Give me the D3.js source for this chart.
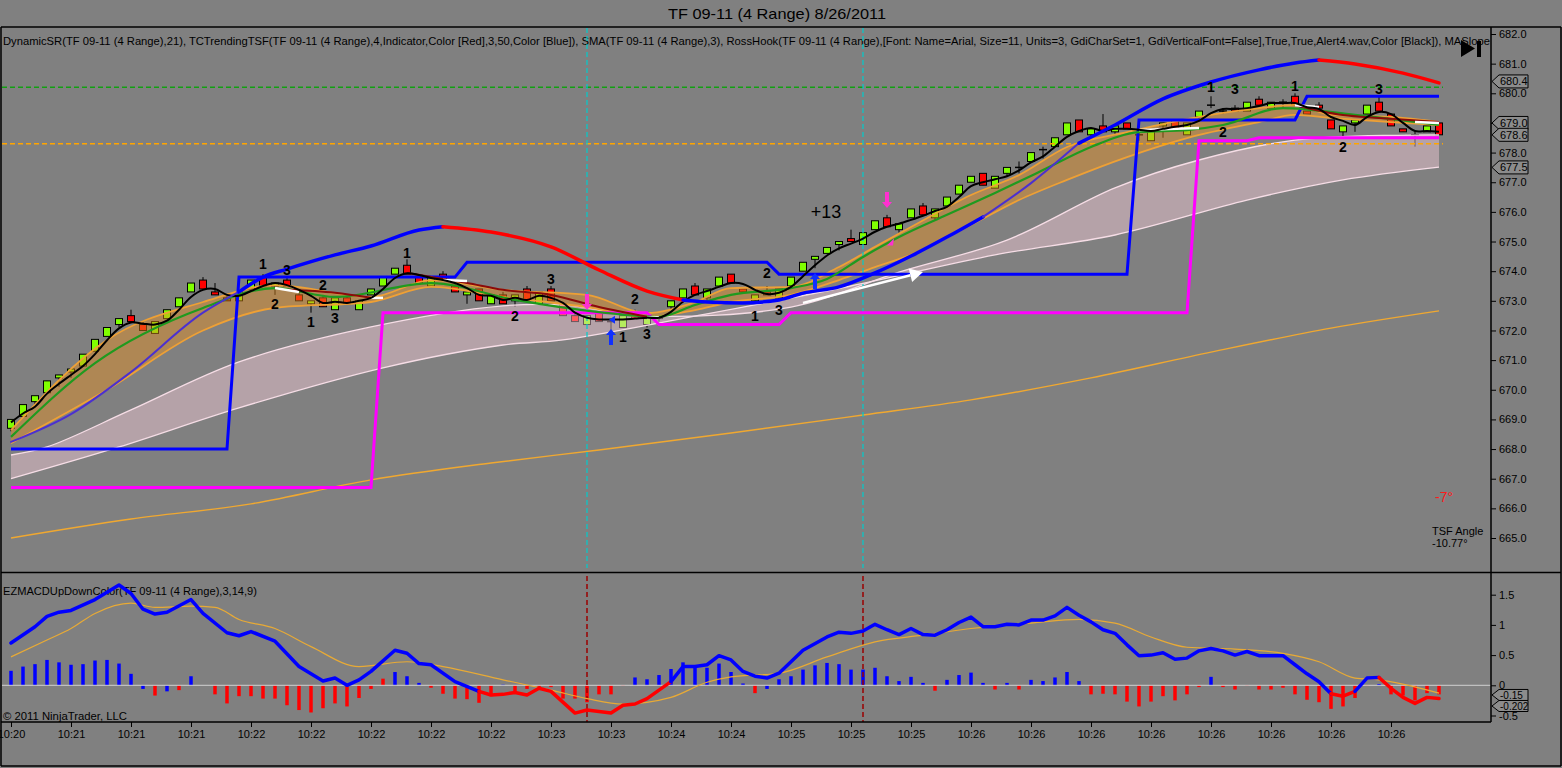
<!DOCTYPE html>
<html><head><meta charset="utf-8">
<script src="https://cdn.jsdelivr.net/npm/d3@7"></script>
<style>
body{margin:0;background:#808080;overflow:hidden}
svg{display:block}
text{font-family:"Liberation Sans",Arial,sans-serif}
</style>
</head><body>
<svg id="c" width="1562" height="768"></svg>
<script>
// ---------------- DATA ----------------
const title = "TF 09-11 (4 Range)  8/26/2011";
const indicatorText = "DynamicSR(TF 09-11 (4 Range),21), TCTrendingTSF(TF 09-11 (4 Range),4,Indicator,Color [Red],3,50,Color [Blue]), SMA(TF 09-11 (4 Range),3), RossHook(TF 09-11 (4 Range),[Font: Name=Arial, Size=11, Units=3, GdiCharSet=1, GdiVerticalFont=False],True,True,Alert4.wav,Color [Black]), MASlope";
const lowerText = "EZMACDUpDownColor(TF 09-11 (4 Range),3,14,9)";
const copyText = "\u00A9 2011 NinjaTrader, LLC";
const tickBars = [0,5,10,15,20,25,30,35,40,45,50,55,60,65,70,75,80,85,90,95,100,105,110,115];
const timeLabels = ["10:20","10:21","10:21","10:21","10:22","10:22","10:22","10:22","10:22","10:23","10:23","10:24","10:24","10:25","10:25","10:25","10:26","10:26","10:26","10:26","10:26","10:26","10:26","10:26"];
const priceTicks = [665,666,667,668,669,670,671,672,673,674,675,676,677,678,679,680,681,682];
const macdTicks = [-0.5,0,0.5,1,1.5];

// candles [open, high, low, close]
const candles = [
[668.7,669.0,668.6,669.0],[669.1,669.5,669.1,669.5],[669.6,669.8,669.5,669.8],[669.9,670.3,669.9,670.3],[670.4,670.5,670.1,670.5],
[670.6,670.7,670.4,670.7],[670.8,671.2,670.8,671.2],[671.3,671.7,671.3,671.7],[671.8,672.1,671.8,672.1],[672.2,672.4,672.1,672.4],
[672.5,672.7,672.3,672.3],[672.2,672.3,672.0,672.0],[671.9,672.3,671.9,672.3],[672.4,672.7,672.4,672.7],[672.8,673.1,672.8,673.1],
[673.3,673.6,673.3,673.6],[673.7,673.8,673.4,673.4],[673.3,673.6,673.2,673.2],[673.1,673.2,673.0,673.0],[673.0,673.3,673.0,673.3],
[673.4,673.7,673.4,673.7],[673.8,673.9,673.5,673.5],[673.5,673.6,673.2,673.6],[673.7,673.8,673.5,673.5],[673.2,673.3,673.0,673.0],
[672.9,673.0,672.6,673.0],[673.1,673.2,672.8,672.8],[672.7,673.1,672.7,673.1],[673.1,673.2,672.9,672.9],[672.7,673.0,672.7,673.0],
[673.2,673.4,673.2,673.4],[673.5,673.8,673.5,673.8],[673.9,674.1,673.9,674.1],[674.2,674.4,673.9,673.9],[673.8,673.9,673.6,673.6],
[673.5,673.8,673.5,673.8],[673.9,674.0,673.7,673.7],[673.5,673.6,673.3,673.3],[673.2,673.3,672.9,673.3],[673.4,673.4,673.0,673.0],
[672.9,673.2,672.9,673.2],[673.2,673.3,672.9,672.9],[673.0,673.2,672.8,673.2],[673.4,673.5,673.0,673.0],[672.9,673.3,672.9,673.3],
[673.4,673.5,673.0,673.0],[672.9,672.9,672.5,672.5],[672.5,672.6,672.3,672.3],[672.2,672.5,672.2,672.5],[672.6,672.6,672.3,672.3],
[672.3,672.4,672.0,672.3],[672.1,672.5,672.1,672.5],[672.6,672.7,672.4,672.4],[672.2,672.4,672.1,672.4],[672.4,672.5,672.3,672.5],
[672.8,673.0,672.7,673.0],[673.1,673.4,673.1,673.4],[673.5,673.6,673.2,673.2],[673.1,673.4,673.0,673.4],[673.5,673.8,673.5,673.8],
[673.9,673.9,673.6,673.6],[673.4,673.4,673.3,673.3],[673.0,673.2,672.9,673.2],[673.3,673.5,673.2,673.2],[673.1,673.4,673.0,673.4],
[673.5,673.8,673.5,673.8],[674.0,674.3,674.0,674.3],[674.4,674.5,674.1,674.5],[674.6,674.8,674.6,674.8],[674.9,675.0,674.7,675.0],
[675.1,675.4,675.0,675.0],[674.9,675.3,674.9,675.3],[675.4,675.7,675.4,675.7],[675.8,675.9,675.5,675.5],[675.4,675.6,675.3,675.6],
[675.8,676.1,675.8,676.1],[676.2,676.3,675.9,675.9],[675.8,676.1,675.7,676.1],[676.2,676.5,676.2,676.5],[676.6,676.9,676.6,676.9],
[677.0,677.2,677.0,677.2],[677.3,677.3,676.9,676.9],[676.8,677.2,676.8,677.2],[677.3,677.5,677.2,677.5],[677.5,677.7,677.3,677.5],
[677.7,678.0,677.7,678.0],[678.1,678.2,677.8,678.1],[678.2,678.5,678.2,678.5],[678.6,679.0,678.6,679.0],[679.1,679.1,678.7,678.7],
[678.6,678.8,678.5,678.8],[678.9,679.3,678.7,678.7],[678.7,678.9,678.6,678.9],[679.0,679.0,678.8,678.8],[678.6,678.8,678.4,678.6],
[678.4,678.8,678.4,678.8],[678.9,679.0,678.5,679.0],[679.1,679.1,678.8,678.8],[678.6,679.0,678.6,679.0],[679.2,679.4,679.1,679.4],
[679.6,679.9,679.5,679.6],[679.4,679.5,679.3,679.4],[679.5,679.6,679.4,679.4],[679.4,679.7,679.4,679.7],[679.8,679.9,679.6,679.6],
[679.5,679.7,679.5,679.7],[679.7,679.8,679.5,679.7],[679.9,680.0,679.6,679.6],[679.4,679.4,679.3,679.3],[679.6,679.7,679.5,679.5],
[679.1,679.1,678.8,678.8],[678.7,678.9,678.5,678.9],[679.0,679.1,678.7,679.1],[679.3,679.6,679.3,679.6],[679.7,679.9,679.4,679.4],
[679.3,679.3,678.9,678.9],[678.8,678.8,678.7,678.7],[678.6,678.7,678.2,678.6],[678.7,678.9,678.7,678.9],[679.0,679.0,678.6,678.6]
];

// SMA(3) black line, one value per bar
const smaVals = [
668.9,669.2,669.43,669.87,670.2,670.5,670.8,671.2,671.67,672.07,
672.27,672.23,672.2,672.33,672.7,673.13,673.37,673.4,673.2,673.17,
673.33,673.5,673.6,673.53,673.37,673.17,672.93,672.97,672.93,673.0,
673.1,673.4,673.77,673.93,673.87,673.77,673.7,673.6,673.43,673.2,
673.17,673.03,673.1,673.03,673.17,673.1,672.93,672.6,672.43,672.37,
672.37,672.37,672.4,672.43,672.43,672.63,672.97,673.2,673.33,673.47,
673.6,673.57,673.37,673.23,673.27,673.47,673.83,674.2,674.53,674.77,
674.93,675.1,675.33,675.5,675.6,675.73,675.87,676.03,676.17,676.5,
676.87,677.0,677.1,677.2,677.4,677.67,677.87,678.2,678.53,678.73,
678.83,678.73,678.8,678.8,678.77,678.73,678.8,678.87,678.93,679.07,
679.33,679.47,679.47,679.5,679.57,679.67,679.67,679.67,679.53,679.47,
679.2,679.07,678.93,679.2,679.37,679.3,679.0,678.73,678.73,678.7
];

// TSF forecast line
const tsfBars = [0,5,10,16,19,21,23,27,30,34,36,40,45,49,53,56,58,61,64,66,69,72,75,78,81,85,89,92,96,100,104,107,109,112,116,119];
const tsfVals = [668.24,669.18,670.6,672.6,673.3,673.8,674.07,674.55,674.85,675.39,675.5,675.32,674.82,674.04,673.33,673.03,672.96,672.93,673.03,673.26,673.47,673.94,674.51,675.15,675.83,676.97,678.32,678.93,679.81,680.38,680.79,681.02,681.12,680.99,680.68,680.35];
const tsfRedRanges = [[36,56],[109,119]];
const tsfThinRanges = [[0,19],[81,89]];

// green MA
const greenBars = [0,7,16,22,27,35,42,49,54,57,60,65,68,71,74,78,82,86,90,94,98,101,106,112,119];
const greenVals = [668.41,670.9,672.76,673.43,673.13,673.6,673.03,672.62,672.46,672.86,673.2,673.43,673.74,674.48,675.15,675.9,676.64,677.41,678.19,678.69,678.76,678.93,679.5,679.27,678.93];

// orange envelope band
const bandBars = [0,8,16,22,30,35,41,48,53,57,60,65,69,72,75,80,84,88,93,98,104,107,110,115,119];
const bandUpper = [668.64,671.68,672.96,673.53,673.13,673.7,673.37,673.2,672.59,672.96,673.43,673.47,674.14,674.82,675.49,676.57,677.24,678.19,678.69,679.13,679.5,679.61,679.27,679.2,679.03];
const bandLower = [668.2,670.0,672.0,672.76,672.96,673.47,673.13,672.79,672.46,672.69,672.96,673.2,673.7,674.14,674.55,675.56,676.4,677.08,677.85,678.49,679.03,679.27,679.17,679.03,678.93];

// pink band
const pinkUpBars = [0,3,10,19,30,41,46,53,65,74,83,92,99,107,119];
const pinkUpVals = [667.8,668.07,669.32,670.94,672.12,672.83,672.86,672.49,672.79,673.97,675.05,676.81,677.75,678.42,678.6];
const pinkLoBars = [0,9,19,31,41,46,58,70,82,92,103,111,119];
const pinkLoVals = [667.0,668.07,669.39,670.74,671.51,671.68,672.56,673.5,674.55,675.22,676.4,677.08,677.51];

// long orange MA
const longBars = [0,10,20,30,40,49,60,71,80,90,100,110,119];
const longVals = [665.0,665.64,666.15,666.96,667.53,667.97,668.54,669.15,669.66,670.4,671.27,672.08,672.66];

// dark red trend segments
const darkRedBars = [[23,27,30],[33,38,41,45,49,53],[107,111,114,119]];
const darkRedVals = [[673.37,673.27,673.1],[673.94,673.6,673.37,673.2,672.79,672.46],[679.6,679.27,679.17,679.03]];

// white segments
const whiteBars = [[22,24],[30,31],[36,38],[53,54],[94,99],[107,109],[117,119]];
const whiteVals = [[673.43,673.3],[673.1,673.1],[673.7,673.67],[672.42,672.45],[678.76,678.83],[679.6,679.54],[679.03,679.0]];
const arrowBars = [66,76];
const arrowVals = [672.93,673.97];

// DynamicSR step lines [fromBar, toBar, level]
const resistance = [[0,18,668.0],[19,37,673.8],[38,63,674.3],[64,93,673.9],[94,107,679.1],[108,119,679.9]];
const support = [[0,30,666.7],[31,53,672.6],[54,64,672.2],[65,98,672.6],[99,103,678.4],[104,119,678.5]];

const hLines = [680.2, 678.3];
const vLineBars = [48, 71];

// RossHook labels
const hookBars = [21,23,22,26,25,27,33,42,45,52,51,53,63,62,64,100,102,101,107,114,111];
const hookVals = [674.24,674.04,672.9,673.53,672.29,672.42,674.61,672.49,673.74,673.06,671.78,671.88,673.94,672.49,672.69,680.21,680.15,678.7,680.25,680.15,678.19];
const hookText = ["1","3","2","2","1","3","1","2","3","2","1","3","2","1","3","1","3","2","1","3","2"];
const upArrowBars = [50,67];
const upArrowVals = [671.78,673.67];
const downArrowBars = [48,73];
const downArrowVals = [672.96,676.4];
const priceFlags = [680.4,679.0,678.6,677.5];

// MACD panel
const macdBars = [0,2,3,4,5,7,9,10,11,12,13,15,16,18,19,20,22,24,26,27,28,29,30,32,33,34,35,37,39,40,41,42,43,44,45,47,48,50,51,52,53,55,56,57,58,59,60,61,62,63,64,66,68,69,70,71,72,73,74,75,76,77,78,79,80,81,82,83,84,85,86,87,88,89,90,91,92,93,94,95,96,97,98,99,100,101,102,103,104,105,106,107,108,109,110,111,112,113,114,115,116,117,118,119];
const macdVals = [0.70,0.97,1.14,1.21,1.24,1.42,1.66,1.52,1.26,1.18,1.21,1.42,1.19,0.87,0.82,0.89,0.73,0.31,0.07,0.12,0.0,0.09,0.23,0.58,0.53,0.36,0.34,0.06,-0.10,-0.16,-0.15,-0.12,-0.16,-0.05,-0.10,-0.46,-0.41,-0.46,-0.33,-0.31,-0.22,0.06,0.31,0.31,0.34,0.49,0.42,0.23,0.15,0.12,0.20,0.58,0.80,0.88,0.86,0.90,1.01,0.92,0.84,0.94,0.84,0.83,0.92,1.04,1.13,0.97,0.97,1.01,1.00,1.08,1.08,1.15,1.29,1.16,1.05,0.92,0.86,0.67,0.49,0.50,0.54,0.43,0.45,0.57,0.61,0.57,0.50,0.56,0.49,0.49,0.49,0.34,0.19,0.06,-0.14,-0.18,-0.10,0.12,0.13,-0.05,-0.20,-0.30,-0.20,-0.22];
const macdRedRanges = [[39,55],[110,112],[114,119]];
const signalBars = [0,3,5,7,10,12,15,17,19,22,25,29,33,36,41,45,48,51,55,58,60,64,68,72,76,80,85,89,92,95,98,102,106,109,112,114,119];
const signalVals = [0.47,0.75,0.94,1.19,1.36,1.29,1.31,1.29,1.09,0.94,0.64,0.31,0.39,0.31,0.09,-0.08,-0.22,-0.31,-0.20,0.05,0.14,0.20,0.47,0.72,0.83,0.94,1.03,1.09,1.03,0.80,0.63,0.60,0.53,0.39,0.12,0.09,-0.13];
const histVals = [
0.24,0.31,0.35,0.42,0.38,0.34,0.35,0.41,0.42,0.36,
0.19,-0.06,-0.17,-0.10,-0.08,0.15,0.00,-0.15,-0.30,-0.18,
-0.18,-0.22,-0.22,-0.33,-0.41,-0.45,-0.38,-0.30,-0.35,-0.21,
-0.06,0.11,0.22,0.15,0.04,-0.04,-0.14,-0.22,-0.23,-0.29,
-0.18,0.01,-0.11,-0.06,-0.06,-0.03,-0.22,-0.22,-0.28,-0.15,
-0.15,-0.01,0.13,0.10,0.17,0.27,0.38,0.31,0.29,0.36,
0.22,0.03,-0.13,-0.06,0.10,0.15,0.26,0.33,0.37,0.35,
0.26,0.26,0.29,0.15,0.07,0.14,0.04,-0.09,0.09,0.17,
0.21,0.04,-0.07,0.04,-0.07,0.09,0.07,0.13,0.22,0.07,
-0.15,-0.14,-0.15,-0.27,-0.35,-0.27,-0.18,-0.25,-0.15,-0.03,
0.14,-0.03,-0.07,-0.01,-0.07,-0.07,-0.04,-0.15,-0.24,-0.28,
-0.39,-0.35,-0.21,-0.01,0.02,-0.15,-0.17,-0.25,-0.13,-0.15];
const histRedPositive = [31];
const histBlueNegative = [11,13,63];
const macdFlags = [[-0.202,"-0.202",8.5],[-0.15,"-0.15",0.6]];

// ---------------- CHART ----------------
const W = 1562, H = 768;
const x = d3.scaleLinear().domain([0,119]).range([11,1439]);
const y = d3.scaleLinear().domain([665,682]).range([538,34]);
const yl = d3.scaleLinear().domain([-0.5,1.5]).range([715.5,594.7]);
const PR = 1491; // panel right

const svg = d3.select('#c');
svg.append('rect').attr('width',W).attr('height',H).attr('fill','#808080');
const defs = svg.append('defs');
defs.append('clipPath').attr('id','cm').append('rect').attr('x',2).attr('y',28).attr('width',PR-2).attr('height',544);
defs.append('clipPath').attr('id','cl').append('rect').attr('x',2).attr('y',573).attr('width',PR-2).attr('height',149);

// title
svg.append('text').attr('x',668).attr('y',19).attr('font-size',15).attr('fill','#000')
  .attr('textLength',218).attr('lengthAdjust','spacingAndGlyphs').text(title);

const main = svg.append('g').attr('clip-path','url(#cm)');
main.append('text').attr('x',3).attr('y',44.5).attr('font-size',11).attr('fill','#000')
  .attr('textLength',1487).attr('lengthAdjust','spacingAndGlyphs').text(indicatorText);

// candles
const cg = main.append('g');
const cd = candles.map((d,i)=>({i,o:d[0],h:d[1],l:d[2],c:d[3]}));
cg.selectAll('line.w').data(cd).join('line').attr('class','w')
  .attr('x1',d=>x(d.i)).attr('x2',d=>x(d.i)).attr('y1',d=>y(d.h)).attr('y2',d=>y(d.l))
  .attr('stroke','#000').attr('stroke-width',1);
cg.selectAll('rect.b').data(cd.filter(d=>d.o!==d.c)).join('rect').attr('class','b')
  .attr('x',d=>x(d.i)-3.5).attr('width',7)
  .attr('y',d=>y(Math.max(d.o,d.c))).attr('height',d=>Math.max(1,y(Math.min(d.o,d.c))-y(Math.max(d.o,d.c))))
  .attr('fill',d=>d.c>d.o?'#80ff00':'#ff0000').attr('stroke','#000').attr('stroke-width',1);
cg.selectAll('line.d').data(cd.filter(d=>d.o===d.c)).join('line').attr('class','d')
  .attr('x1',d=>x(d.i)-4).attr('x2',d=>x(d.i)+4).attr('y1',d=>y(d.o)).attr('y2',d=>y(d.o))
  .attr('stroke','#000').attr('stroke-width',1.5);

// pink band
const cr = d3.line().curve(d3.curveCatmullRom.alpha(0.5));
const pUp = pinkUpBars.map((b,i)=>[x(b),y(pinkUpVals[i])]);
const pLo = pinkLoBars.map((b,i)=>[x(b),y(pinkLoVals[i])]);
main.append('path').attr('d', cr(pUp) + 'L' + cr(pLo.slice().reverse()).slice(1) + 'Z')
  .attr('fill','#ffd2e0').attr('fill-opacity',0.42);
[pUp,pLo].forEach(p=>main.append('path').attr('d',cr(p)).attr('fill','none').attr('stroke','#f6dde6').attr('stroke-width',1.3));

// orange band
const bd = bandBars.map((b,i)=>({b,u:bandUpper[i],l:bandLower[i]}));
main.append('path').datum(bd)
  .attr('d', d3.area().x(d=>x(d.b)).y0(d=>y(d.l)).y1(d=>y(d.u)).curve(d3.curveMonotoneX))
  .attr('fill','#e8901e').attr('fill-opacity',0.45);
['u','l'].forEach(k=>main.append('path').datum(bd)
  .attr('d', d3.line().x(d=>x(d.b)).y(d=>y(d[k])).curve(d3.curveMonotoneX))
  .attr('fill','none').attr('stroke','#eea035').attr('stroke-width',1.8));

// long orange MA
main.append('path').attr('d', d3.line().curve(d3.curveMonotoneX)(longBars.map((b,i)=>[x(b),y(longVals[i])])))
  .attr('fill','none').attr('stroke','#f0a830').attr('stroke-width',1.4);

// horizontal dashed lines
main.selectAll('line.h').data(hLines).join('line').attr('class','h')
  .attr('x1',2).attr('x2',x(119)+4).attr('y1',d=>y(d)).attr('y2',d=>y(d))
  .attr('stroke',(d,i)=>i===0?'#12a012':'#ffa500').attr('stroke-width',1.5).attr('stroke-dasharray','5,3');

// cyan verticals
main.selectAll('line.v').data(vLineBars).join('line').attr('class','v')
  .attr('x1',d=>x(d)).attr('x2',d=>x(d)).attr('y1',28).attr('y2',568)
  .attr('stroke','#00cccc').attr('stroke-width',1.2).attr('stroke-dasharray','5,3');

// step lines
function stepPts(segs){const p=[];segs.forEach(s=>{p.push([x(s[0]),y(s[2])]);p.push([x(s[1]),y(s[2])]);});return p;}
main.append('path').attr('d',d3.line()(stepPts(support))).attr('fill','none').attr('stroke','#ff00ff').attr('stroke-width',3);
main.append('path').attr('d',d3.line()(stepPts(resistance))).attr('fill','none').attr('stroke','#0000ff').attr('stroke-width',3);

// green MA
main.append('path').attr('d', d3.line().curve(d3.curveMonotoneX)(greenBars.map((b,i)=>[x(b),y(greenVals[i])])))
  .attr('fill','none').attr('stroke','#1f9a1f').attr('stroke-width',2.2);

// dark red
darkRedBars.forEach((bs,k)=>main.append('path')
  .attr('d', d3.line().curve(d3.curveMonotoneX)(bs.map((b,i)=>[x(b),y(darkRedVals[k][i])])))
  .attr('fill','none').attr('stroke','#8b0a0a').attr('stroke-width',2));

// white segments
whiteBars.forEach((bs,k)=>main.append('path')
  .attr('d', d3.line()(bs.map((b,i)=>[x(b),y(whiteVals[k][i])])))
  .attr('fill','none').attr('stroke','#ffffff').attr('stroke-width',2.5));

// black SMA
main.append('path').attr('d', d3.line().curve(d3.curveCatmullRom.alpha(0.5))(smaVals.map((v,i)=>[x(i),y(v)])))
  .attr('fill','none').attr('stroke','#000').attr('stroke-width',2);

// white arrow
{
  const x0=x(arrowBars[0]), y0=y(arrowVals[0]), x1=x(arrowBars[1]), y1=y(arrowVals[1]);
  const ang=Math.atan2(y1-y0,x1-x0), L=13, Wd=7;
  const bx=x1-L*Math.cos(ang), by=y1-L*Math.sin(ang);
  main.append('line').attr('x1',x0).attr('y1',y0).attr('x2',bx).attr('y2',by).attr('stroke','#fff').attr('stroke-width',2.5);
  main.append('path').attr('d',`M${x1},${y1}L${bx-Wd*Math.sin(ang)},${by+Wd*Math.cos(ang)}L${bx+Wd*Math.sin(ang)},${by-Wd*Math.cos(ang)}Z`).attr('fill','#fff');
}

// TSF line
function inRange(a,b,ranges){return ranges.some(r=>a>=r[0]&&b<=r[1]);}
function styledGroups(bars,vals,styleFn){
  const groups=[];let cur=null;
  for(let k=0;k<bars.length-1;k++){
    const st=styleFn(bars[k],bars[k+1]);
    if(!cur||cur.st!==st){cur={st,pts:[[bars[k],vals[k]]]};groups.push(cur);}
    cur.pts.push([bars[k+1],vals[k+1]]);
  }
  return groups;
}
const tsfStyles={red:['#ff0000',3.5],blue:['#0000ff',3.5],thin:['#4b30d0',2]};
styledGroups(tsfBars,tsfVals,(a,b)=>inRange(a,b,tsfRedRanges)?'red':(inRange(a,b,tsfThinRanges)?'thin':'blue'))
  .forEach(g=>main.append('path').attr('d',d3.line().curve(d3.curveMonotoneX)(g.pts.map(p=>[x(p[0]),y(p[1])])))
    .attr('fill','none').attr('stroke',tsfStyles[g.st][0]).attr('stroke-width',tsfStyles[g.st][1]).attr('stroke-linecap','round'));

// arrows
function upArrow(cx,cy){return `M${cx},${cy-8}L${cx+5},${cy-2}L${cx+2},${cy-2}L${cx+2},${cy+8}L${cx-2},${cy+8}L${cx-2},${cy-2}L${cx-5},${cy-2}Z`;}
function downArrow(cx,cy){return `M${cx},${cy+8}L${cx+5},${cy+2}L${cx+2},${cy+2}L${cx+2},${cy-8}L${cx-2},${cy-8}L${cx-2},${cy+2}L${cx-5},${cy+2}Z`;}
upArrowBars.forEach((b,i)=>main.append('path').attr('d',upArrow(x(b),y(upArrowVals[i]))).attr('fill','#1030ff'));
downArrowBars.forEach((b,i)=>main.append('path').attr('d',downArrow(x(b),y(downArrowVals[i]))).attr('fill','#ff30d0'));
// small arrowheads
main.append('path').attr('d',`M${x(73)},${y(675.0)+4}l7,-7l-1,7z`).attr('fill','#ff30d0');
main.append('path').attr('d',`M${x(50)-2},${y(672.36)}l6,-4l0,8z`).attr('fill','#1030ff');

// hook labels
main.selectAll('text.hk').data(hookBars).join('text').attr('class','hk')
  .attr('x',d=>x(d)).attr('y',(d,i)=>y(hookVals[i])).attr('dy','0.36em')
  .attr('text-anchor','middle').attr('font-size',14).attr('font-weight','bold').attr('fill','#000')
  .text((d,i)=>hookText[i]);
main.append('text').attr('x',x(68)-1).attr('y',y(676.0)).attr('dy','0.36em').attr('text-anchor','middle')
  .attr('font-size',18).attr('fill','#000').text('+13');

// angle texts
main.append('text').attr('x',1435).attr('y',502).attr('font-size',14).attr('fill','#ff1a1a').text('-7\u00B0');
main.append('text').attr('x',1432).attr('y',535).attr('font-size',11).attr('fill','#000').text('TSF Angle');
main.append('text').attr('x',1432).attr('y',547).attr('font-size',11).attr('fill','#000').text('-10.77\u00B0');

// skip icon
svg.append('path').attr('d','M1461,40L1475,48.5L1461,57Z').attr('fill','#000');
svg.append('rect').attr('x',1477).attr('y',41).attr('width',4).attr('height',16).attr('fill','#000');

// ---------- lower panel ----------
const low = svg.append('g').attr('clip-path','url(#cl)');
low.append('text').attr('x',3).attr('y',595).attr('font-size',11).attr('fill','#000')
  .attr('textLength',254).attr('lengthAdjust','spacingAndGlyphs').text(lowerText);
low.append('text').attr('x',3).attr('y',720).attr('font-size',11).attr('fill','#000')
  .attr('textLength',124).attr('lengthAdjust','spacingAndGlyphs').text(copyText);

low.selectAll('rect.hb').data(histVals).join('rect').attr('class','hb')
  .attr('x',(d,i)=>x(i)-1.75).attr('width',3.5)
  .attr('y',d=>Math.min(yl(0),yl(d))).attr('height',d=>Math.abs(yl(d)-yl(0)))
  .attr('fill',(d,i)=>{
    if(histRedPositive.includes(i)) return '#ff0000';
    if(histBlueNegative.includes(i)) return '#0000ff';
    return d>=0?'#0000ff':'#ff0000';});
low.append('line').attr('x1',2).attr('x2',PR).attr('y1',yl(0)).attr('y2',yl(0)).attr('stroke','#d0d0d0').attr('stroke-width',1);

low.selectAll('line.lv').data(vLineBars).join('line').attr('class','lv')
  .attr('x1',d=>x(d)).attr('x2',d=>x(d)).attr('y1',576).attr('y2',722)
  .attr('stroke','#9a0000').attr('stroke-width',1.5).attr('stroke-dasharray','5,3');

low.append('path').attr('d',d3.line().curve(d3.curveMonotoneX)(signalBars.map((b,i)=>[x(b),yl(signalVals[i])])))
  .attr('fill','none').attr('stroke','#e8aa35').attr('stroke-width',1.2);

styledGroups(macdBars,macdVals,(a,b)=>inRange(a,b,macdRedRanges)?'red':'blue')
  .forEach(g=>low.append('path').attr('d',d3.line()(g.pts.map(p=>[x(p[0]),yl(p[1])])))
    .attr('fill','none').attr('stroke',g.st==='red'?'#ff0000':'#0000ff').attr('stroke-width',3.5)
    .attr('stroke-linejoin','round').attr('stroke-linecap','round'));

// ---------- axes ----------
const ra = svg.append('g').attr('transform',`translate(${PR},0)`)
  .call(d3.axisRight(y).tickValues(priceTicks).tickFormat(d3.format('.1f')).tickSize(5).tickPadding(3));
ra.select('.domain').remove();
ra.attr('font-size',11).attr('font-family','"Liberation Sans",Arial,sans-serif');

const rl = svg.append('g').attr('transform',`translate(${PR},0)`)
  .call(d3.axisRight(yl).tickValues(macdTicks).tickFormat(d=>String(d)).tickSize(5).tickPadding(3));
rl.select('.domain').remove();
rl.attr('font-size',11).attr('font-family','"Liberation Sans",Arial,sans-serif');

const ba = svg.append('g').attr('transform','translate(0,722)')
  .call(d3.axisBottom(x).tickValues(tickBars).tickFormat((d,i)=>timeLabels[i]).tickSize(5).tickPadding(3));
ba.select('.domain').remove();
ba.attr('font-size',11).attr('font-family','"Liberation Sans",Arial,sans-serif');

// flags
function flag(g,yc,label,hh,fs){
  g.append('path').attr('d',`M${PR+1},${yc}L${PR+8},${yc-hh}L${PR+37},${yc-hh}L${PR+37},${yc+hh}L${PR+8},${yc+hh}Z`)
    .attr('fill','#8c8c8c').attr('stroke','#000').attr('stroke-width',1);
  g.append('text').attr('x',PR+9).attr('y',yc).attr('dy','0.36em').attr('font-size',fs).attr('fill','#000').text(label);
}
const fg = svg.append('g');
priceFlags.forEach(v=>flag(fg,y(v),d3.format('.1f')(v),6.5,11));
macdFlags.forEach(f=>flag(fg,yl(f[0])+f[2],f[1],5.5,10));

// frame lines
const fr = svg.append('g').attr('stroke','#000').attr('stroke-width',1.5);
fr.append('line').attr('x1',1).attr('x2',1561).attr('y1',27).attr('y2',27);
fr.append('line').attr('x1',1).attr('x2',1561).attr('y1',572.5).attr('y2',572.5);
fr.append('line').attr('x1',1).attr('x2',1561).attr('y1',766).attr('y2',766);
fr.append('line').attr('x1',1).attr('x2',PR).attr('y1',722).attr('y2',722);
fr.append('line').attr('x1',1).attr('x2',1).attr('y1',27).attr('y2',766);
fr.append('line').attr('x1',1561).attr('x2',1561).attr('y1',27).attr('y2',766);
fr.append('line').attr('x1',PR).attr('x2',PR).attr('y1',27).attr('y2',722);
</script>
</body></html>
